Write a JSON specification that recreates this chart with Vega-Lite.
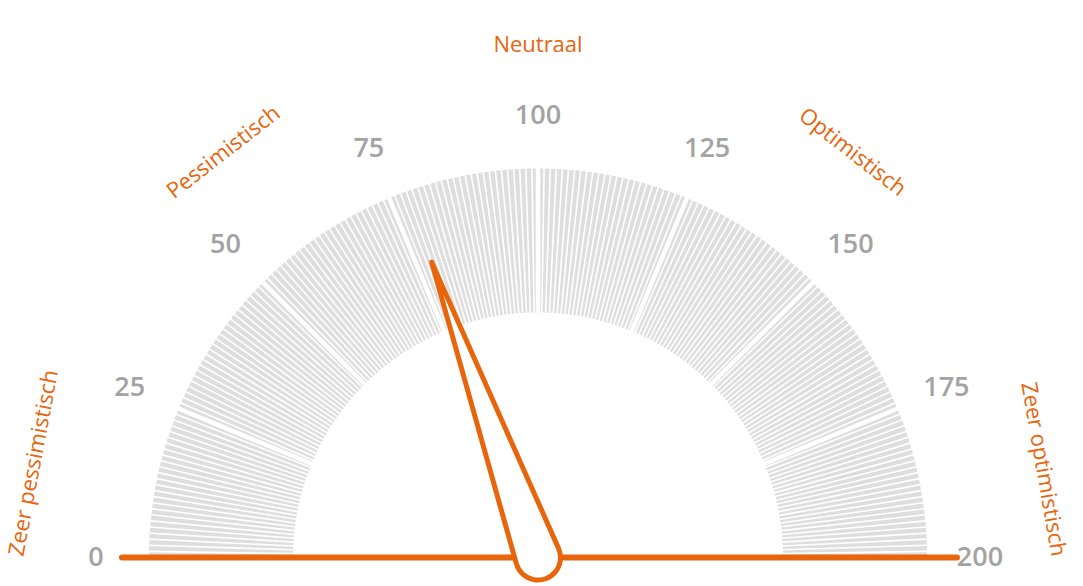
{
  "$schema": "https://vega.github.io/schema/vega-lite/v6.json",
  "width": 1083,
  "height": 586,
  "autosize": "none",
  "padding": 0,
  "background": "white",
  "layer": [
    {
      "description": "Gauge slices",
      "data": {"values": [
        {"s":0,"e":1},{"s":1,"e":2},{"s":2,"e":3},{"s":3,"e":4},{"s":4,"e":5},{"s":5,"e":6},{"s":6,"e":7},{"s":7,"e":8},{"s":8,"e":9},{"s":9,"e":10},
        {"s":10,"e":11},{"s":11,"e":12},{"s":12,"e":13},{"s":13,"e":14},{"s":14,"e":15},{"s":15,"e":16},{"s":16,"e":17},{"s":17,"e":18},{"s":18,"e":19},{"s":19,"e":20},
        {"s":20,"e":21},{"s":21,"e":22},{"s":22,"e":23},{"s":23,"e":24},{"s":24,"e":25},{"s":25,"e":26},{"s":26,"e":27},{"s":27,"e":28},{"s":28,"e":29},{"s":29,"e":30},
        {"s":30,"e":31},{"s":31,"e":32},{"s":32,"e":33},{"s":33,"e":34},{"s":34,"e":35},{"s":35,"e":36},{"s":36,"e":37},{"s":37,"e":38},{"s":38,"e":39},{"s":39,"e":40},
        {"s":40,"e":41},{"s":41,"e":42},{"s":42,"e":43},{"s":43,"e":44},{"s":44,"e":45},{"s":45,"e":46},{"s":46,"e":47},{"s":47,"e":48},{"s":48,"e":49},{"s":49,"e":50},
        {"s":50,"e":51},{"s":51,"e":52},{"s":52,"e":53},{"s":53,"e":54},{"s":54,"e":55},{"s":55,"e":56},{"s":56,"e":57},{"s":57,"e":58},{"s":58,"e":59},{"s":59,"e":60},
        {"s":60,"e":61},{"s":61,"e":62},{"s":62,"e":63},{"s":63,"e":64},{"s":64,"e":65},{"s":65,"e":66},{"s":66,"e":67},{"s":67,"e":68},{"s":68,"e":69},{"s":69,"e":70},
        {"s":70,"e":71},{"s":71,"e":72},{"s":72,"e":73},{"s":73,"e":74},{"s":74,"e":75},{"s":75,"e":76},{"s":76,"e":77},{"s":77,"e":78},{"s":78,"e":79},{"s":79,"e":80},
        {"s":80,"e":81},{"s":81,"e":82},{"s":82,"e":83},{"s":83,"e":84},{"s":84,"e":85},{"s":85,"e":86},{"s":86,"e":87},{"s":87,"e":88},{"s":88,"e":89},{"s":89,"e":90},
        {"s":90,"e":91},{"s":91,"e":92},{"s":92,"e":93},{"s":93,"e":94},{"s":94,"e":95},{"s":95,"e":96},{"s":96,"e":97},{"s":97,"e":98},{"s":98,"e":99},{"s":99,"e":100},
        {"s":100,"e":101},{"s":101,"e":102},{"s":102,"e":103},{"s":103,"e":104},{"s":104,"e":105},{"s":105,"e":106},{"s":106,"e":107},{"s":107,"e":108},{"s":108,"e":109},{"s":109,"e":110},
        {"s":110,"e":111},{"s":111,"e":112},{"s":112,"e":113},{"s":113,"e":114},{"s":114,"e":115},{"s":115,"e":116},{"s":116,"e":117},{"s":117,"e":118},{"s":118,"e":119},{"s":119,"e":120},
        {"s":120,"e":121},{"s":121,"e":122},{"s":122,"e":123},{"s":123,"e":124},{"s":124,"e":125},{"s":125,"e":126},{"s":126,"e":127},{"s":127,"e":128},{"s":128,"e":129},{"s":129,"e":130},
        {"s":130,"e":131},{"s":131,"e":132},{"s":132,"e":133},{"s":133,"e":134},{"s":134,"e":135},{"s":135,"e":136},{"s":136,"e":137},{"s":137,"e":138},{"s":138,"e":139},{"s":139,"e":140},
        {"s":140,"e":141},{"s":141,"e":142},{"s":142,"e":143},{"s":143,"e":144},{"s":144,"e":145},{"s":145,"e":146},{"s":146,"e":147},{"s":147,"e":148},{"s":148,"e":149},{"s":149,"e":150},
        {"s":150,"e":151},{"s":151,"e":152},{"s":152,"e":153},{"s":153,"e":154},{"s":154,"e":155},{"s":155,"e":156},{"s":156,"e":157},{"s":157,"e":158},{"s":158,"e":159},{"s":159,"e":160},
        {"s":160,"e":161},{"s":161,"e":162},{"s":162,"e":163},{"s":163,"e":164},{"s":164,"e":165},{"s":165,"e":166},{"s":166,"e":167},{"s":167,"e":168},{"s":168,"e":169},{"s":169,"e":170},
        {"s":170,"e":171},{"s":171,"e":172},{"s":172,"e":173},{"s":173,"e":174},{"s":174,"e":175},{"s":175,"e":176},{"s":176,"e":177},{"s":177,"e":178},{"s":178,"e":179},{"s":179,"e":180},
        {"s":180,"e":181},{"s":181,"e":182},{"s":182,"e":183},{"s":183,"e":184},{"s":184,"e":185},{"s":185,"e":186},{"s":186,"e":187},{"s":187,"e":188},{"s":188,"e":189},{"s":189,"e":190},
        {"s":190,"e":191},{"s":191,"e":192},{"s":192,"e":193},{"s":193,"e":194},{"s":194,"e":195},{"s":195,"e":196},{"s":196,"e":197},{"s":197,"e":198},{"s":198,"e":199},{"s":199,"e":200}
      ]},
      "mark": {"type": "arc", "padAngle": 0.0035, "color": "#dedede"},
      "encoding": {
        "x": {"datum": 0, "type": "quantitative", "scale": {"domain": [-538, 545], "nice": false, "zero": false}, "axis": null},
        "y": {"datum": 0, "type": "quantitative", "scale": {"domain": [-28.5, 557.5], "nice": false, "zero": false}, "axis": null},
        "theta": {"field": "s", "type": "quantitative", "scale": {"domain": [0, 200], "range": [-1.5708, 1.5708]}},
        "theta2": {"field": "e"},
        "radius": {"value": 389},
        "radius2": {"value": 245}
      }
    },
    {
      "description": "White separators every 25",
      "data": {"values": [{"v": 25}, {"v": 50}, {"v": 75}, {"v": 100}, {"v": 125}, {"v": 150}, {"v": 175}]},
      "mark": {"type": "arc", "fill": null, "stroke": "white", "strokeWidth": 4.5, "strokeCap": "butt"},
      "encoding": {
        "x": {"datum": 0, "type": "quantitative"},
        "y": {"datum": 0, "type": "quantitative"},
        "theta": {"field": "v", "type": "quantitative"},
        "theta2": {"field": "v"},
        "radius": {"value": 392},
        "radius2": {"value": 242}
      }
    },
    {
      "description": "Baseline",
      "data": {"values": [{"line": "base"}]},
      "mark": {"type": "rule", "color": "#e8650c", "strokeWidth": 6, "strokeCap": "round"},
      "encoding": {
        "x": {"datum": -416, "type": "quantitative"},
        "x2": {"datum": 419},
        "y": {"datum": 0, "type": "quantitative"}
      }
    },
    {
      "description": "Needle",
      "data": {"values": [{"value": 78}]},
      "mark": {
        "type": "point",
        "shape": "M0,-1L0.0715,-0.0051A0.0717,0.0717,0,1,1,-0.0715,-0.0051Z",
        "fill": "white",
        "fillOpacity": 1,
        "stroke": "#e8650c",
        "strokeWidth": 5,
        "strokeJoin": "round",
        "opacity": 1,
        "size": 394384
      },
      "encoding": {
        "x": {"datum": 0, "type": "quantitative"},
        "y": {"datum": 0, "type": "quantitative"},
        "angle": {"field": "value", "type": "quantitative", "scale": {"domain": [0, 200], "range": [-90, 90]}}
      }
    },
    {
      "description": "Tick labels",
      "data": {"values": [{"v": 0}, {"v": 25}, {"v": 50}, {"v": 75}, {"v": 100}, {"v": 125}, {"v": 150}, {"v": 175}, {"v": 200}]},
      "mark": {"type": "text", "font": "Open Sans", "fontSize": 27, "fontWeight": 600, "color": "#a3a3a3", "align": "center", "baseline": "middle"},
      "encoding": {
        "x": {"datum": 0, "type": "quantitative"},
        "y": {"datum": 0, "type": "quantitative"},
        "theta": {"field": "v", "type": "quantitative"},
        "radius": {"value": 442},
        "text": {"field": "v", "type": "quantitative"}
      }
    },
    {
      "description": "Category labels",
      "data": {"values": [
        {"label": "Zeer pessimistisch", "v": 11.8},
        {"label": "Pessimistisch", "v": 58},
        {"label": "Neutraal", "v": 100},
        {"label": "Optimistisch", "v": 142},
        {"label": "Zeer optimistisch", "v": 189}
      ]},
      "mark": {"type": "text", "font": "Open Sans", "fontSize": 22, "color": "#e8650c", "align": "center", "baseline": "middle"},
      "encoding": {
        "x": {"datum": 0, "type": "quantitative"},
        "y": {"datum": 0, "type": "quantitative"},
        "theta": {"field": "v", "type": "quantitative"},
        "radius": {"value": 513},
        "angle": {"field": "v", "type": "quantitative"},
        "text": {"field": "label", "type": "nominal"}
      }
    }
  ],
  "config": {"view": {"stroke": null}}
}
